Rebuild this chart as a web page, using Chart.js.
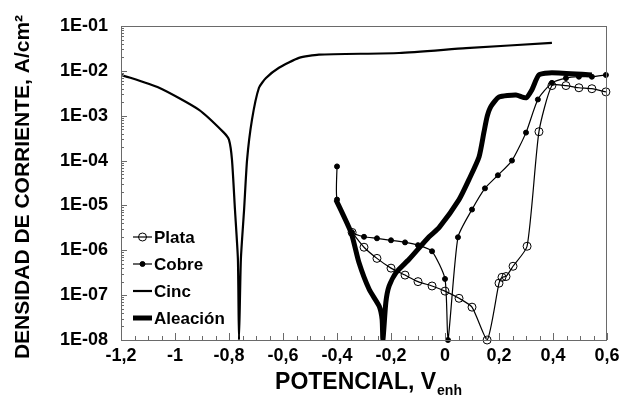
<!DOCTYPE html>
<html lang="es">
<head>
  <meta charset="UTF-8" />
  <title>Curvas de polarización</title>
  <script src="https://cdn.jsdelivr.net/npm/chart.js"></script>
  <style>
    body { margin: 0; background: #fff; }
    canvas { display: block; }
  </style>
</head>
<body>
<canvas id="polChart" width="636" height="405"></canvas>

<script>
  // datos (potencial en V, densidad en A/cm2)
  const potencialPlata = [-0.344, -0.3, -0.252, -0.2, -0.148, -0.1, -0.048, 0, 0.052, 0.1, 0.156, 0.2, 0.211, 0.226, 0.252, 0.304, 0.348, 0.396, 0.448, 0.496, 0.544, 0.596];
  const corrientePlata = [2.5e-6, 1.17e-6, 6.6e-7, 4e-7, 2.8e-7, 2.0e-7, 1.6e-7, 1.23e-7, 8.5e-8, 5.4e-8, 1e-8, 1.85e-7, 2.5e-7, 2.6e-7, 4.4e-7, 1.23e-6, 4.4e-4, 4.7e-3, 4.7e-3, 4.2e-3, 4e-3, 3.4e-3];

  const potencialCobre = [-0.4, -0.4, -0.344, -0.3, -0.252, -0.2, -0.148, -0.1, -0.048, 0, 0.011, 0.048, 0.1, 0.148, 0.196, 0.248, 0.3, 0.344, 0.396, 0.448, 0.496, 0.544, 0.596];
  const corrienteCobre = [7.4e-5, 1.35e-5, 2.5e-6, 2.0e-6, 1.85e-6, 1.67e-6, 1.5e-6, 1.3e-6, 9.5e-7, 2.3e-7, 1e-8, 1.95e-6, 8.1e-6, 2.4e-5, 4.7e-5, 1e-4, 4.2e-4, 2.3e-3, 5.4e-3, 6.9e-3, 7.4e-3, 7.4e-3, 8.1e-3];

  const potencialCinc = [-1.2, -1.059, -0.911, -0.819, -0.8, -0.789, -0.778, -0.767, -0.763, -0.756, -0.744, -0.733, -0.715, -0.689, -0.663, -0.615, -0.541, -0.467, -0.17, 0.078, 0.396];
  const corrienteCinc = [8.2e-3, 4.2e-3, 1.35e-3, 4.2e-4, 2.9e-4, 1.05e-4, 8.2e-6, 6.3e-7, 1e-8, 6.3e-7, 8.2e-6, 1.05e-4, 8.1e-4, 4.2e-3, 6.9e-3, 1.17e-2, 1.95e-2, 2.3e-2, 2.5e-2, 3.2e-2, 4.2e-2];

  const potencialAleacion = [-0.404, -0.348, -0.319, -0.281, -0.244, -0.233, -0.23, -0.219, -0.207, -0.181, -0.133, -0.059, -0.022, 0.052, 0.089, 0.126, 0.144, 0.156, 0.17, 0.2, 0.263, 0.3, 0.322, 0.348, 0.396, 0.544];
  const corrienteAleacion = [1.35e-5, 2.5e-6, 5.4e-7, 1.35e-7, 5.7e-8, 2.9e-8, 1e-8, 7e-8, 1.6e-7, 3.2e-7, 6.3e-7, 2e-6, 3.2e-6, 1.35e-5, 3.8e-5, 1.2e-4, 4.2e-4, 9.5e-4, 1.6e-3, 2.6e-3, 2.9e-3, 2.5e-3, 3.8e-3, 8.1e-3, 9.1e-3, 8.1e-3];

  const xTicks = [-1.2, -1, -0.8, -0.6, -0.4, -0.2, 0, 0.2, 0.4, 0.6];
  const yTicks = [1e-8, 1e-7, 1e-6, 1e-5, 1e-4, 1e-3, 1e-2, 1e-1];
  const yTickLabels = ['1E-08', '1E-07', '1E-06', '1E-05', '1E-04', '1E-03', '1E-02', '1E-01'];

  const FUENTE = '"Liberation Sans", Arial, sans-serif';

  function puntos(xs, ys) {
    return xs.map((x, i) => ({ x: x, y: ys[i] }));
  }

  // marco, marcas menores, leyenda y titulos de ejes
  const extras = {
    id: 'extras',
    afterDatasetsDraw(chart) {
      const ctx = chart.ctx;
      const area = chart.chartArea;
      const sx = chart.scales.x;
      const sy = chart.scales.y;
      ctx.save();
      ctx.strokeStyle = '#6a6a6a';
      ctx.lineWidth = 1;
      ctx.strokeRect(area.left + 0.5, area.top + 0.5, area.right - area.left - 1, area.bottom - area.top);

      // marcas eje y (log)
      ctx.beginPath();
      for (let k = -8; k <= -2; k++) {
        for (let m = 1; m <= 9; m++) {
          const y = Math.round(sy.getPixelForValue(m * Math.pow(10, k))) + 0.5;
          ctx.moveTo(area.left, y);
          ctx.lineTo(area.left + (m === 1 ? 6 : 3), y);
        }
      }
      // marcas eje x cada 0,05
      for (let i = 0; i <= 36; i++) {
        const x = Math.round(sx.getPixelForValue(-1.2 + i * 0.05)) + 0.5;
        ctx.moveTo(x, area.bottom);
        ctx.lineTo(x, area.bottom - (i % 4 === 0 ? 7 : 4));
      }
      ctx.stroke();

      // leyenda
      ctx.font = 'bold 17px ' + FUENTE;
      ctx.textBaseline = 'middle';
      ctx.fillStyle = '#000';
      chart.data.datasets.forEach((ds, i) => {
        const y = 237 + i * 27;
        ctx.strokeStyle = '#000';
        ctx.lineWidth = ds.borderWidth;
        ctx.beginPath();
        ctx.moveTo(133, y);
        ctx.lineTo(152, y);
        ctx.stroke();
        if (ds.pointRadius > 0) {
          ctx.beginPath();
          ctx.arc(142.5, y, ds.pointRadius, 0, Math.PI * 2);
          if (ds.pointBackgroundColor === '#000') ctx.fill();
          ctx.lineWidth = 1;
          ctx.stroke();
        }
        ctx.fillText(ds.label, 154, y + 1);
      });

      // titulo eje y
      ctx.save();
      ctx.translate(23, 187);
      ctx.rotate(-Math.PI / 2);
      ctx.textAlign = 'center';
      ctx.font = 'bold 21px ' + FUENTE;
      ctx.fillText('DENSIDAD DE CORRIENTE, A/cm²', 0, 0);
      ctx.restore();

      // titulo eje x con subindice
      ctx.textBaseline = 'alphabetic';
      ctx.font = 'bold 23px ' + FUENTE;
      const principal = 'POTENCIAL, V';
      const w1 = ctx.measureText(principal).width;
      ctx.font = 'bold 14px ' + FUENTE;
      const w2 = ctx.measureText('enh').width;
      const x0 = 368 - (w1 + w2) / 2;
      ctx.font = 'bold 23px ' + FUENTE;
      ctx.fillText(principal, x0, 389);
      ctx.font = 'bold 14px ' + FUENTE;
      ctx.fillText('enh', x0 + w1 + 1, 395);
      ctx.restore();
    }
  };

  const config = {
    type: 'line',
    data: {
      datasets: [
        {
          label: 'Plata',
          data: puntos(potencialPlata, corrientePlata),
          borderColor: '#000',
          borderWidth: 1.2,
          pointRadius: 4,
          pointBorderWidth: 1,
          pointBorderColor: '#000',
          pointBackgroundColor: 'rgba(0,0,0,0)',
          tension: 0.2,
          clip: 8
        },
        {
          label: 'Cobre',
          data: puntos(potencialCobre, corrienteCobre),
          borderColor: '#000',
          borderWidth: 1.2,
          pointRadius: 2.5,
          pointBorderWidth: 1,
          pointBorderColor: '#000',
          pointBackgroundColor: '#000',
          tension: 0.2,
          clip: 8
        },
        {
          label: 'Cinc',
          data: puntos(potencialCinc, corrienteCinc),
          borderColor: '#000',
          borderWidth: 2.2,
          pointRadius: 0,
          tension: 0.2
        },
        {
          label: 'Aleación',
          data: puntos(potencialAleacion, corrienteAleacion),
          borderColor: '#000',
          borderWidth: 5,
          pointRadius: 0,
          tension: 0.2,
          order: -1
        }
      ]
    },
    options: {
      responsive: false,
      animation: false,
      events: [],
      layout: { padding: { top: 26, right: 29, left: 0, bottom: 0 } },
      plugins: {
        legend: { display: false },
        tooltip: { enabled: false }
      },
      scales: {
        x: {
          type: 'linear',
          min: -1.2,
          max: 0.6,
          afterBuildTicks: (scale) => { scale.ticks = xTicks.map(v => ({ value: v })); },
          afterFit: (scale) => { scale.height = 65; },
          grid: { display: false, drawTicks: false },
          border: { display: false },
          ticks: {
            padding: 5,
            maxRotation: 0,
            color: '#000',
            font: { family: FUENTE, size: 18, weight: 'bold' },
            callback: (v) => String(Math.round(v * 10) / 10).replace('.', ',')
          }
        },
        y: {
          type: 'logarithmic',
          min: 1e-8,
          max: 1e-1,
          afterBuildTicks: (scale) => { scale.ticks = yTicks.map(v => ({ value: v })); },
          afterFit: (scale) => { scale.width = 121; },
          grid: { display: false, drawTicks: false },
          border: { display: false },
          ticks: {
            padding: 13,
            color: '#000',
            font: { family: FUENTE, size: 18, weight: 'bold' },
            callback: (v, i) => yTickLabels[i]
          }
        }
      }
    },
    plugins: [extras]
  };

  new Chart(document.getElementById('polChart').getContext('2d'), config);
</script>
</body>
</html>
